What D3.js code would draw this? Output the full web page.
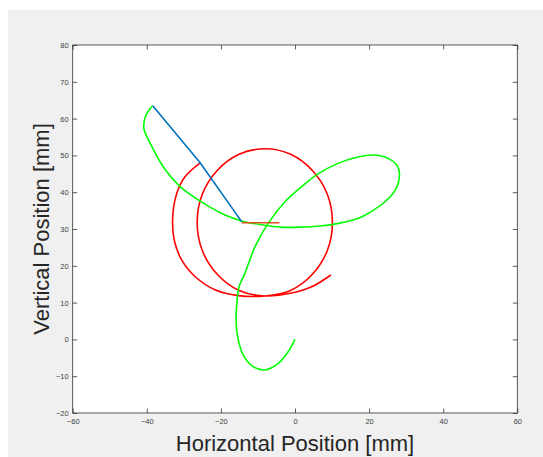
<!DOCTYPE html>
<html>
<head>
<meta charset="utf-8">
<script src="https://cdn.jsdelivr.net/npm/d3@7"></script>
<style>
  body { margin: 0; background: #fff; }
  text { font-family: "Liberation Sans", Arial, sans-serif; }
</style>
</head>
<body>
<svg id="chart"></svg>
<script>
// tick values
const xTicks = [-60, -40, -20, 0, 20, 40, 60];
const yTicks = [-20, -10, 0, 10, 20, 30, 40, 50, 60, 70, 80];

// end effector path (green) [x, y] in mm
const effectorPath = [
  [0, 0], [-1.8, -3.3], [-4.5, -6.5], [-8.1, -8.3], [-11.3, -7.4], [-14.0, -4.2],
  [-15.5, 0.8], [-15.9, 5.3], [-15.7, 9.8], [-15.1, 14.3], [-13.5, 18.0], [-10.8, 25.2],
  [-7.2, 31.6], [-2.7, 37.4], [1.8, 41.5], [6.1, 44.9], [11.3, 47.7], [16.7, 49.5],
  [21.5, 50.1], [25.5, 49.0], [27.7, 47.0], [28.2, 44.5], [27.3, 41.0], [24.5, 37.6],
  [21.0, 35.0], [17.3, 33.0], [12.1, 31.6], [6.7, 30.8], [1.3, 30.5], [-4.0, 30.5],
  [-8.1, 31.0], [-14.4, 32.2], [-18.9, 33.8], [-26.1, 37.9], [-31.0, 41.5], [-35.3, 46.5],
  [-38.9, 52.9], [-40.8, 57.4], [-40.2, 61.0], [-38.4, 63.5]
];

// elbow path (red)
const elbowPath = [
  [9.7, 17.5], [4.5, 14.3], [-0.9, 12.6], [-8.1, 11.8],
  // closed loop
  [-15.1, 13.3], [-21.0, 17.7], [-25.0, 24.1], [-26.4, 31.8], [-25.0, 39.5], [-21.0, 45.9],
  [-15.1, 50.3], [-8.1, 51.8], [-1.2, 50.3], [4.7, 45.9], [8.7, 39.5], [10.1, 31.8],
  [8.7, 24.1], [4.7, 17.7], [-1.2, 13.3], [-8.1, 11.8],
  // outer arc back up to the elbow
  [-15.3, 11.9], [-21.6, 13.5], [-27.0, 17.1], [-30.6, 21.6], [-32.6, 27.0], [-33.0, 33.4],
  [-31.9, 39.7], [-29.7, 44.2], [-25.6, 48.0]
];

// links
const armLinks = [[-38.4, 63.5], [-25.6, 48.0], [-14.4, 32.0]];
const crankLink = [[-14.4, 31.7], [-4.2, 31.7]];

const W = 543, H = 457;
const svg = d3.select('#chart').attr('width', W).attr('height', H);

// figure background
svg.append('rect').attr('x', 8).attr('y', 10).attr('width', W - 8).attr('height', H - 10)
  .attr('fill', '#f0f0f0');

const axL = 72.7, axR = 517.3, axT = 45, axB = 413;
const x = d3.scaleLinear().domain([-60, 60]).range([axL, axR]);
const y = d3.scaleLinear().domain([-20, 80]).range([axB, axT]);

svg.append('rect').attr('x', axL).attr('y', axT)
  .attr('width', axR - axL).attr('height', axB - axT).attr('fill', '#fff');

const tk = 4.5;
const styleAxis = g => {
  g.select('.domain').remove();
  g.selectAll('line').attr('stroke', '#333').attr('stroke-width', 0.8);
  g.selectAll('text').attr('fill', '#404040').attr('font-size', '7.5px');
};

svg.append('g').attr('transform', `translate(0,${axB})`)
  .call(d3.axisBottom(x).tickValues(xTicks).tickSize(-tk).tickPadding(6)).call(styleAxis);
svg.append('g').attr('transform', `translate(0,${axT})`)
  .call(d3.axisTop(x).tickValues(xTicks).tickSize(-tk).tickFormat('')).call(styleAxis);
svg.append('g').attr('transform', `translate(${axL},0)`)
  .call(d3.axisLeft(y).tickValues(yTicks).tickSize(-tk).tickPadding(4)).call(styleAxis);
svg.append('g').attr('transform', `translate(${axR},0)`)
  .call(d3.axisRight(y).tickValues(yTicks).tickSize(-tk).tickFormat('')).call(styleAxis);

// box
svg.append('rect').attr('x', axL).attr('y', axT)
  .attr('width', axR - axL).attr('height', axB - axT)
  .attr('fill', 'none').attr('stroke', '#333').attr('stroke-width', 0.8);

const smooth = d3.line().x(d => x(d[0])).y(d => y(d[1])).curve(d3.curveCatmullRom.alpha(0.5));
const straight = d3.line().x(d => x(d[0])).y(d => y(d[1]));

svg.append('path').attr('d', smooth(elbowPath))
  .attr('fill', 'none').attr('stroke', '#ff0000').attr('stroke-width', 1.6);
svg.append('path').attr('d', smooth(effectorPath))
  .attr('fill', 'none').attr('stroke', '#00ff00').attr('stroke-width', 1.6);
svg.append('path').attr('d', straight(armLinks))
  .attr('fill', 'none').attr('stroke', '#0072bd').attr('stroke-width', 1.6);
svg.append('path').attr('d', straight(crankLink))
  .attr('fill', 'none').attr('stroke', '#d95319').attr('stroke-width', 1.6);

// axis titles
svg.append('text').attr('x', (axL + axR) / 2).attr('y', 451)
  .attr('text-anchor', 'middle').attr('font-size', '22px').attr('fill', '#262626')
  .text('Horizontal Position [mm]');
svg.append('text').attr('transform', `translate(49,${(axT + axB) / 2}) rotate(-90)`)
  .attr('text-anchor', 'middle').attr('font-size', '22px').attr('fill', '#262626')
  .text('Vertical Position [mm]');
</script>
</body>
</html>
